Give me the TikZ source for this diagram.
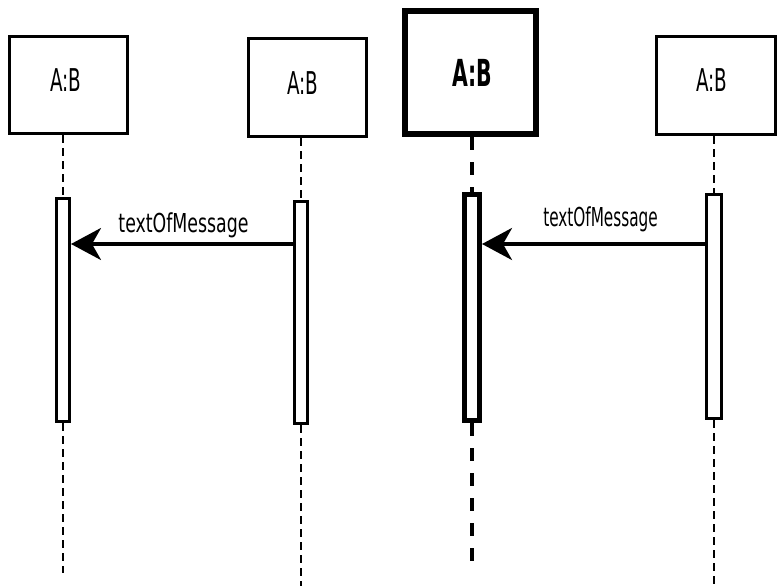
\documentclass[tikz,border=0pt]{standalone}
\usepackage{fontspec}
\setmainfont{DejaVu Sans Condensed}
\usetikzlibrary{arrows.meta}
\newcommand{\objtxt}[1]{\fontsize{20.4}{20.4}\selectfont\scalebox{1}[1.54]{#1}}
\newcommand{\objtxtb}[1]{\bfseries\fontsize{22.7}{22.7}\selectfont\scalebox{1}[1.64]{#1}}
\tikzset{
  objbox/.style={draw, line width=3pt, inner sep=0pt},
  objboxb/.style={draw, line width=6pt, inner sep=0pt},
  actbar/.style={draw, fill=white, line width=3pt, inner sep=0pt},
  actbarb/.style={draw, fill=white, line width=5pt, inner sep=0pt},
  life/.style={line width=2.2pt, dash pattern=on 8pt off 5pt},
  lifeb/.style={line width=4pt, dash pattern=on 13pt off 12pt},
  msg/.style={line width=3.5pt, -{Stealth[length=30pt, width=32pt, inset=9pt]}},
  lbl/.style={anchor=base, inner sep=0pt},
  ttl/.style={anchor=base, inner sep=0pt}
}
\begin{document}
\begin{tikzpicture}[x=1pt,y=-1pt]
\useasboundingbox (0,0) rectangle (779,586);
% lifeline 1
\node[objbox, minimum width=118pt, minimum height=97pt] (o1) at (68.5,85) {};
\node[ttl] (t1) at (66,92) {\objtxt{A:B}};
\coordinate (e1) at (63,573);
\node[actbar, minimum width=13pt, minimum height=223pt] (a1) at (63,310) {};
\draw[life] (o1.south -| a1) -- (a1.north);
\draw[life] (a1.south) -- (e1);
% lifeline 2
\node[objbox, minimum width=118pt, minimum height=98pt] (o2) at (307.5,87.5) {};
\node[ttl] (t2) at (303,95) {\objtxt{A:B}};
\coordinate (e2) at (301,586);
\node[actbar, minimum width=13pt, minimum height=222pt] (a2) at (301,312.5) {};
\draw[life] (o2.south -| a2) -- (a2.north);
\draw[life] (a2.south) -- (e2);
% lifeline 3 (bold)
\node[objboxb, minimum width=131pt, minimum height=123pt] (o3) at (470.5,72.5) {};
\node[ttl] (t3) at (472.5,87) {\objtxtb{A:B}};
\coordinate (e3) at (472,570);
\node[actbarb, minimum width=15pt, minimum height=226pt] (a3) at (472,307.5) {};
\draw[lifeb] (o3.south -| a3) -- (a3.north);
\draw[lifeb] (a3.south) -- (e3);
% lifeline 4
\node[objbox, minimum width=119pt, minimum height=98pt] (o4) at (716,85.5) {};
\node[ttl] (t4) at (712,92) {\objtxt{A:B}};
\coordinate (e4) at (714,586);
\node[actbar, minimum width=15pt, minimum height=224pt] (a4) at (714,306.5) {};
\draw[life] (o4.south -| a4) -- (a4.north);
\draw[life] (a4.south) -- (e4);
% messages
\draw[msg] (a2.west |- 0,244) -- (a1.east |- 0,244);
\node[lbl] (m1) at (183.5,232) {\fontsize{19.3}{19.3}\selectfont\scalebox{1}[1.35]{textOfMessage}};
\draw[msg] (a4.west |- 0,244) -- (a3.east |- 0,244);
\node[lbl] (m2) at (600.5,226) {\fontsize{19.3}{19.3}\selectfont\scalebox{0.88}[1.35]{textOfMessage}};
\end{tikzpicture}
\end{document}
